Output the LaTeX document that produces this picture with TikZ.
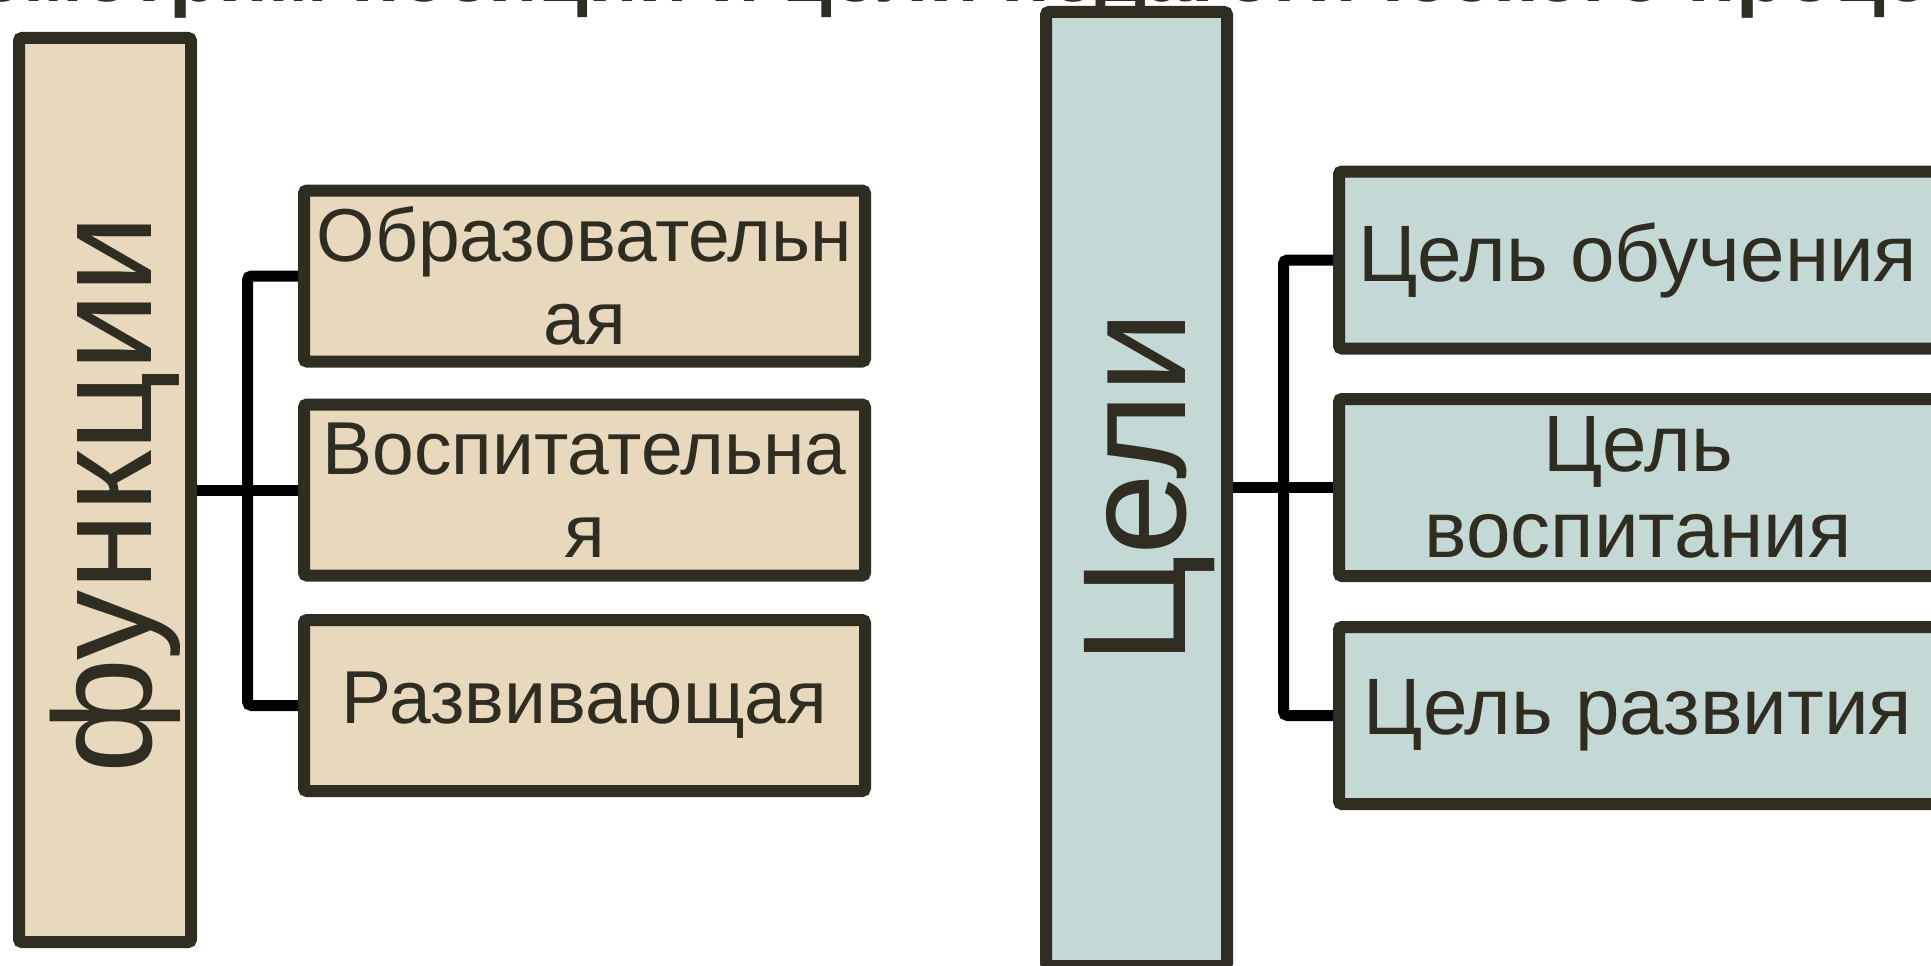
\documentclass[tikz,border=0pt]{standalone}
\usepackage{fontspec}
\setmainfont{Liberation Sans}
\definecolor{bord}{RGB}{47,44,34}
\definecolor{beige}{RGB}{232,217,190}
\definecolor{bluegr}{RGB}{196,216,214}
\tikzset{
  box/.style={draw=bord, line width=12pt, rounded corners=3pt, inner sep=0pt,
    text=bord, align=center},
  funbox/.style={box, fill=beige, font=\fontsize{75}{83}\selectfont},
  celbox/.style={box, fill=bluegr, font=\fontsize{80}{86}\selectfont},
  conn/.style={draw=black, line width=11pt, rounded corners=4pt},
  bigtext/.style={text=bord, rotate=90, anchor=base, inner sep=0pt},
}
\begin{document}
\begin{tikzpicture}[x=1pt,y=1pt]
\useasboundingbox (0,0) rectangle (1931,-966);
\clip (0,0) rectangle (1931,-966);
% clipped title (only its lowest part lies inside the picture)
\node[anchor=base west, inner sep=0pt, text=bord,
  font=\fontsize{81}{90}\selectfont\bfseries] (title) at (-165,-2)
  {Рассмотрим позиции и цели педагогического процесса};
% left group
\node[funbox, minimum width=172pt, minimum height=904pt] (fun) at (105,-490) {};
\node[bigtext, font=\fontsize{140}{150}\selectfont] (funt) at (151,-494.5) {функции};
\node[funbox, minimum width=561pt, minimum height=171pt] (f1) at (584.5,-276) {Образовательн\\ая};
\node[funbox, minimum width=561pt, minimum height=171pt] (f2) at (584.5,-490) {Воспитательна\\я};
\node[funbox, minimum width=561pt, minimum height=171pt] (f3) at (584.5,-705.5) {Развивающая};
% right group
\node[celbox, minimum width=181pt, minimum height=954pt] (cel) at (1136.5,-489) {};
\node[bigtext, font=\fontsize{147}{157}\selectfont] (celt) at (1185,-488) {Цели};
\node[celbox, minimum width=598pt, minimum height=177pt] (c1) at (1638,-260) {Цель обучения};
\node[celbox, minimum width=598pt, minimum height=177pt] (c2) at (1638,-487.5) {Цель\\воспитания};
\node[celbox, minimum width=598pt, minimum height=177pt] (c3) at (1638,-715.5) {Цель развития};
% connectors
\coordinate (lv) at (247.5,-490);
\coordinate (rv) at (1283.5,-488);
\draw[conn] (f1.west) -- (f1.west -| lv) -- (f3.west -| lv) -- (f3.west);
\draw[conn] (fun.east) -- (f2.west);
\draw[conn] (c1.west) -- (c1.west -| rv) -- (c3.west -| rv) -- (c3.west);
\draw[conn] (cel.east |- c2.west) -- (c2.west);
\end{tikzpicture}
\end{document}
